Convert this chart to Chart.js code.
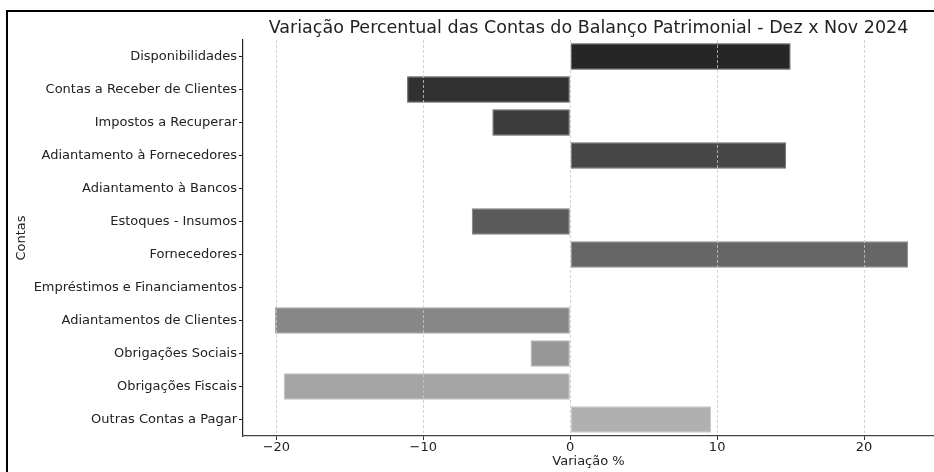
<!DOCTYPE html>
<html>
<head>
<meta charset="utf-8">
<script src="https://cdn.jsdelivr.net/npm/chart.js@4.4.1/dist/chart.umd.min.js"></script>
<style>
  html, body { margin: 0; padding: 0; background: #fff; overflow: hidden; }
  #wrap { position: relative; width: 934px; height: 472px; }
</style>
</head>
<body>
<div id="wrap"><canvas id="grafico" width="934" height="472"></canvas></div>
<script>
var contas = [
    'Disponibilidades',
    'Contas a Receber de Clientes',
    'Impostos a Recuperar',
    'Adiantamento à Fornecedores',
    'Adiantamento à Bancos',
    'Estoques - Insumos',
    'Fornecedores',
    'Empréstimos e Financiamentos',
    'Adiantamentos de Clientes',
    'Obrigações Sociais',
    'Obrigações Fiscais',
    'Outras Contas a Pagar'
];
var variacao = [15.0, -11.1, -5.3, 14.7, 0, -6.7, 23.0, 0, -20.1, -2.7, -19.5, 9.6];
var ticksX = [-20, -10, 0, 10, 20];
var titulo = 'Variação Percentual das Contas do Balanço Patrimonial - Dez x Nov 2024';

// tons de cinza, do mais escuro ao mais claro
var cores = ['#262626', '#313131', '#3c3c3c', '#474747', '#505050', '#5a5a5a',
             '#666666', '#757575', '#878787', '#979797', '#a4a4a4', '#b0b0b0'];
var bordas = ['#4a4a4a', '#555555', '#5e5e5e', '#6a6a6a', '#727272', '#7c7c7c',
              '#888888', '#969696', '#a6a6a6', '#b4b4b4', '#c0c0c0', '#cacaca'];

var fonte = 'DejaVu Sans';

// moldura preta (topo e esquerda) + titulo centrado na area do grafico
var moldura = {
    id: 'moldura',
    afterDraw: function (chart) {
        var c = chart.ctx;
        var area = chart.chartArea;
        c.save();
        c.strokeStyle = '#000';
        c.lineWidth = 2;
        c.beginPath();
        c.moveTo(7, 472);
        c.lineTo(7, 11);
        c.lineTo(934, 11);
        c.stroke();

        c.fillStyle = '#222';
        c.font = '17.5px "' + fonte + '"';
        c.textAlign = 'center';
        c.textBaseline = 'middle';
        c.fillText(titulo, (area.left + area.right) / 2, 28);
        c.restore();
    }
};

var ctx = document.getElementById('grafico');
new Chart(ctx, {
    type: 'bar',
    data: {
        labels: contas,
        datasets: [{
            label: 'Variação %',
            data: variacao,
            backgroundColor: cores,
            borderColor: bordas,
            borderWidth: 1,
            borderSkipped: false,
            barPercentage: 0.8,
            categoryPercentage: 1.0
        }]
    },
    options: {
        indexAxis: 'y',
        responsive: false,
        animation: false,
        devicePixelRatio: 1,
        layout: { padding: { left: 12, right: 0, top: 40, bottom: 0 } },
        plugins: {
            legend: { display: false },
            tooltip: { enabled: false },
            title: { display: false }
        },
        scales: {
            x: {
                type: 'linear',
                min: -22.27,
                max: 24.76,
                afterBuildTicks: function (scale) {
                    scale.ticks = ticksX.map(function (v) { return { value: v }; });
                },
                afterFit: function (scale) { scale.height = 36; },
                ticks: {
                    color: '#222',
                    font: { family: fonte, size: 13 },
                    padding: 0,
                    maxRotation: 0,
                    callback: function (v) { return v < 0 ? '\u2212' + Math.abs(v) : String(v); }
                },
                grid: {
                    z: 1,
                    color: '#c8c8c8',
                    lineWidth: 0.8,
                    tickColor: '#333',
                    tickLength: 4,
                    tickWidth: 1,
                    tickBorderDash: []
                },
                border: { color: '#444', width: 1.2, dash: [3, 2], z: 1 },
                title: {
                    display: true,
                    text: 'Variação %',
                    color: '#222',
                    font: { family: fonte, size: 13 },
                    padding: { top: 0, bottom: 3 }
                }
            },
            y: {
                afterFit: function (scale) { scale.width = 231; },
                ticks: {
                    color: '#222',
                    font: { family: fonte, size: 13 },
                    padding: 2,
                    autoSkip: false
                },
                grid: {
                    offset: false,
                    drawOnChartArea: false,
                    drawTicks: true,
                    tickLength: 4,
                    tickColor: '#222',
                    tickWidth: 1
                },
                border: { color: '#222', width: 1.2 },
                title: {
                    display: true,
                    text: 'Contas',
                    color: '#222',
                    font: { family: fonte, size: 13 },
                    padding: { top: 2, bottom: 0 }
                }
            }
        }
    },
    plugins: [moldura]
});
</script>
</body>
</html>
